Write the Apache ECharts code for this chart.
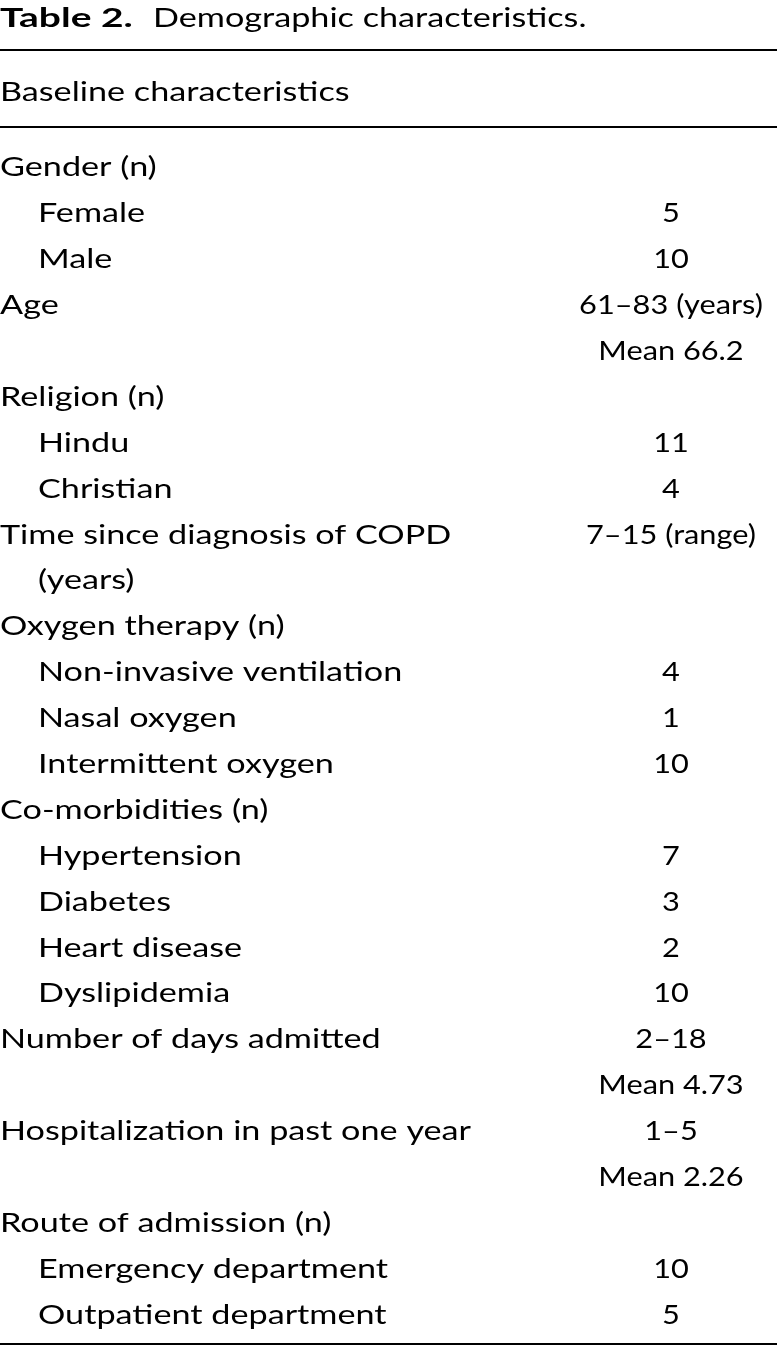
<!DOCTYPE html>
<html>
<head>
<meta charset="utf-8">
<script src="https://cdn.jsdelivr.net/npm/echarts@6/dist/echarts.min.js"></script>
<style>
html,body{margin:0;padding:0;background:#fff;}
#c{width:777px;height:1353px;}
</style>
</head>
<body>
<div id="c"></div>
<script>
var titleBold = 'Table 2.';
var titleText = 'Demographic characteristics.';
var headerText = 'Baseline characteristics';

var rowLabels = [
  'Gender (n)', 'Female', 'Male', 'Age', '', 'Religion (n)', 'Hindu', 'Christian',
  'Time since diagnosis of COPD', '(years)', 'Oxygen therapy (n)',
  'Non-invasive ventilation', 'Nasal oxygen', 'Intermittent oxygen',
  'Co-morbidities (n)', 'Hypertension', 'Diabetes', 'Heart disease', 'Dyslipidemia',
  'Number of days admitted', '', 'Hospitalization in past one year', '',
  'Route of admission (n)', 'Emergency department', 'Outpatient department'
];
var rowLevels = [0,1,1,0,0,0,1,1,0,1,0,1,1,1,0,1,1,1,1,0,0,0,0,0,1,1];
var rowValues = [
  '', '5', '10', '61–83 (years)', 'Mean 66.2', '', '11', '4',
  '7–15 (range)', '', '', '4', '1', '10', '', '7', '3', '2', '10',
  '2–18', 'Mean 4.73', '1–5', 'Mean 2.26', '', '10', '5'
];

var FONT = 'Lato';
var FS = 26.5;
var LABEL_SX = 1.29;
var VALUE_SX = 1.16;
var BOLD_SX = 1.47;
var INDENT = 38;
var VALUE_X = 671;
var COLOR = '#000';

var cats = rowLabels.map(function(_, i){ return String(i); });
var leftData = rowLabels.map(function(t, i){ return [rowLevels[i] * INDENT, i]; });
var rightData = rowValues.map(function(t, i){ return [VALUE_X, i]; });

function textRenderer(texts, align, sx){
  return function(params, api){
    var p = api.coord([api.value(0), api.value(1)]);
    return {
      type: 'text', x: p[0], y: p[1], scaleX: sx, silent: true,
      style: {
        text: texts[params.dataIndex], x: 0, y: 0,
        fontFamily: FONT, fontSize: FS, fill: COLOR,
        align: align, verticalAlign: 'middle',
        textAlign: align, textVerticalAlign: 'middle'
      }
    };
  };
}

var chart = echarts.init(document.getElementById('c'), null, {renderer: 'canvas'});
chart.setOption({
  animation: false,
  backgroundColor: '#fff',
  grid: {left: 0, right: 0, top: 145, bottom: 15},
  xAxis: {type: 'value', min: 0, max: 777, show: false},
  yAxis: {type: 'category', data: cats, inverse: true, show: false},
  series: [
    {type: 'custom', data: leftData, renderItem: textRenderer(rowLabels, 'left', LABEL_SX)},
    {type: 'custom', data: rightData, renderItem: textRenderer(rowValues, 'center', VALUE_SX)}
  ],
  graphic: [
    {type: 'text', x: 0, y: 5, scaleX: BOLD_SX, style: {
      text: titleBold, fontFamily: FONT, fontSize: FS, fontWeight: 'bold', fill: COLOR
    }},
    {type: 'text', x: 153, y: 5, scaleX: LABEL_SX, style: {
      text: titleText, fontFamily: FONT, fontSize: FS, fill: COLOR
    }},
    {type: 'rect', shape: {x: 0, y: 49, width: 777, height: 2}, style: {fill: COLOR}},
    {type: 'text', x: 0, y: 79, scaleX: LABEL_SX, style: {
      text: headerText, fontFamily: FONT, fontSize: FS, fill: COLOR
    }},
    {type: 'rect', shape: {x: 0, y: 126, width: 777, height: 2}, style: {fill: COLOR}},
    {type: 'rect', shape: {x: 0, y: 1343, width: 777, height: 2}, style: {fill: COLOR}}
  ]
});
</script>
</body>
</html>
